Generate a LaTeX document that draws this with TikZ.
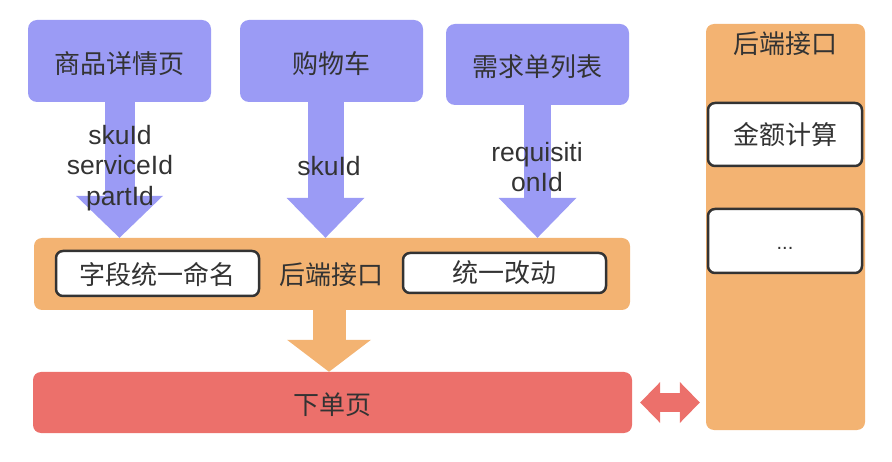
\documentclass[tikz,border=0pt]{standalone}
\usepackage{fontspec}
\setmainfont{Liberation Sans}
\newfontfamily\cjk{Noto Sans CJK SC}
\usetikzlibrary{arrows.meta}
\definecolor{pbox}{HTML}{9B9BF5}
\definecolor{obox}{HTML}{F3B372}
\definecolor{rbox}{HTML}{EC706B}
\definecolor{txt}{HTML}{333333}
\newcommand{\lowtext}[2]{\raisebox{-#1pt}[\height][\depth]{#2}}
\tikzset{
  purplebox/.style={fill=pbox, rounded corners=9pt, inner sep=0pt, text=txt, font=\cjk\fontsize{26}{30}\selectfont},
  orangebox/.style={fill=obox, rounded corners=8pt, inner sep=0pt},
  redbox/.style={fill=rbox, rounded corners=8pt, inner sep=0pt, text=txt, font=\cjk\fontsize{26}{30}\selectfont},
  whitebox/.style={fill=white, draw=txt, line width=2.5pt, rounded corners=7pt, inner sep=0pt, text=txt, font=\cjk\fontsize{26}{30}\selectfont},
  cjklabel/.style={text=txt, inner sep=0pt, font=\cjk\fontsize{26}{30}\selectfont},
  idlabel/.style={text=txt, inner sep=0pt, align=center, font=\fontsize{26.5}{30.5}\selectfont}
}
\begin{document}
\begin{tikzpicture}[x=1pt,y=-1pt]
\useasboundingbox (0,0) rectangle (892,462);
% right panel
\node[orangebox, minimum width=159pt, minimum height=406pt] (panel) at (785.5,227) {};
\node[cjklabel] (ptitle) at (785,43.5) {后端接口};
\node[whitebox, minimum width=154pt, minimum height=63pt] (m1) at (785,134.5) {金额计算};
\node[whitebox, minimum width=154pt, minimum height=64pt, font=\fontsize{20}{24}\selectfont] (m2) at (785,241) {\lowtext{7}{...}};
% top boxes
\node[purplebox, minimum width=183pt, minimum height=82pt] (p1) at (119.5,61) {\lowtext{2.5}{商品详情页}};
\node[purplebox, minimum width=183pt, minimum height=82pt] (p2) at (331.5,61) {\lowtext{2.5}{购物车}};
\node[purplebox, minimum width=183pt, minimum height=81pt] (p3) at (537.5,64.5) {\lowtext{2.5}{需求单列表}};
% band
\node[orangebox, minimum width=596pt, minimum height=72pt] (band) at (332,274) {};
\node[whitebox, minimum width=203pt, minimum height=45pt] (f1) at (157.5,273.5) {\lowtext{1}{字段统一命名}};
\node[whitebox, minimum width=203pt, minimum height=40pt] (f2) at (504.5,273) {统一改动};
\node[cjklabel] (blabel) at (331,275) {后端接口};
% red box
\node[redbox, minimum width=599pt, minimum height=61pt] (order) at (332.5,402.5) {\lowtext{2}{下单页}};
% purple arrows
\draw[draw=pbox, line width=30pt, -{Triangle[width=87pt,length=42pt,line width=0pt]}]
  (p1.south) -- (p1.south |- band.north);
\draw[draw=pbox, line width=36pt, -{Triangle[width=78pt,length=40pt,line width=0pt]}]
  ([xshift=-6pt]p2.south) -- ([xshift=-6pt]p2.south |- band.north);
\draw[draw=pbox, line width=27pt, -{Triangle[width=78pt,length=40pt,line width=0pt]}]
  (p3.south) -- (p3.south |- band.north);
% orange arrow
\draw[draw=obox, line width=33pt, -{Triangle[width=84pt,length=32pt,line width=0pt]}]
  ([xshift=-3pt]band.south) -- ([xshift=-3pt]band.south |- order.north);
% double arrow
\draw[draw=rbox, line width=19pt, {Triangle[width=41pt,length=20pt,line width=0pt]}-{Triangle[width=41pt,length=20pt,line width=0pt]}, shorten <=8pt, shorten >=6pt]
  (order.east) -- (panel.west |- order.east);
% labels
\node[idlabel] (l1) at (120,168) {skuId\\serviceId\\partId};
\node[idlabel] (l2) at (329,166.5) {skuId};
\node[idlabel] (l3) at (537,167) {requisiti\\onId};
\end{tikzpicture}
\end{document}
